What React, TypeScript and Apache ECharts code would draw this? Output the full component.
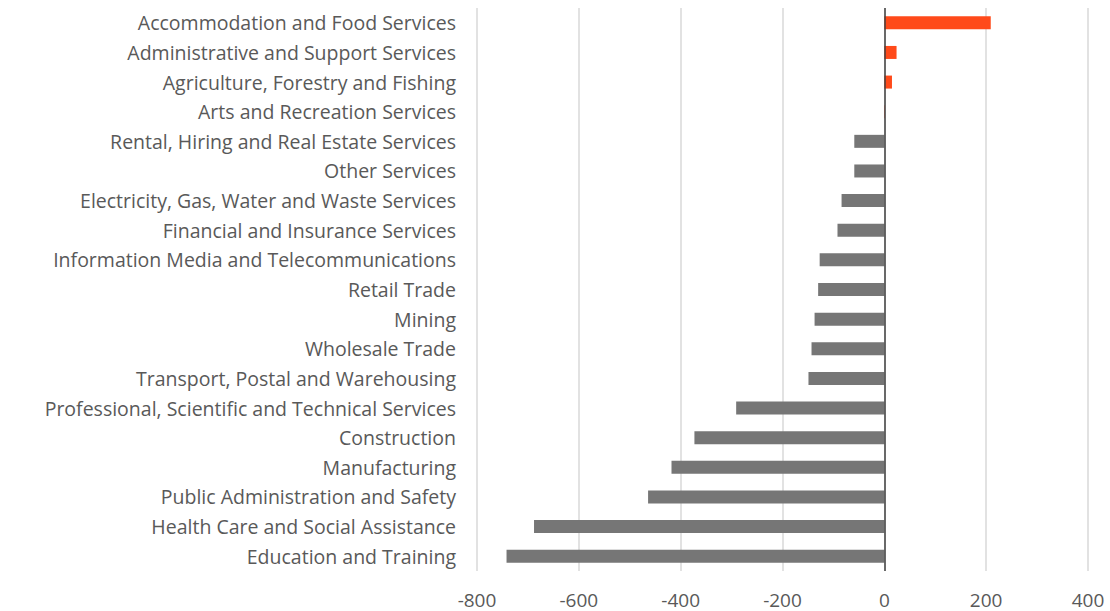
import React, { useEffect, useRef } from "react";
import * as echarts from "echarts";

const categories = [
  "Accommodation and Food Services",
  "Administrative and Support Services",
  "Agriculture, Forestry and Fishing",
  "Arts and Recreation Services",
  "Rental, Hiring and Real Estate Services",
  "Other Services",
  "Electricity, Gas, Water and Waste Services",
  "Financial and Insurance Services",
  "Information Media and Telecommunications",
  "Retail Trade",
  "Mining",
  "Wholesale Trade",
  "Transport, Postal and Warehousing",
  "Professional, Scientific and Technical Services",
  "Construction",
  "Manufacturing",
  "Public Administration and Safety",
  "Health Care and Social Assistance",
  "Education and Training",
];

const values = [209, 24, 15, 1, -59, -59, -84, -92, -127, -130, -137, -143, -149, -291, -373, -418, -464, -688, -742];

const xTicks = { min: -800, max: 400, interval: 200 };

const POS = "#FF4A1A";
const NEG = "#767676";
const TEXT = "#595959";
const FONT = "'Open Sans', 'Noto Sans', sans-serif";

export default function App() {
  const ref = useRef<HTMLDivElement>(null);
  useEffect(() => {
    if (!ref.current) return;
    const chart = echarts.init(ref.current, undefined, { renderer: "svg" });
    chart.setOption({
      animation: false,
      grid: { left: 477, right: 22, top: 8, bottom: 40, containLabel: false },
      xAxis: {
        type: "value",
        min: xTicks.min,
        max: xTicks.max,
        interval: xTicks.interval,
        axisLine: { show: false },
        axisTick: { show: false },
        splitLine: { show: true, lineStyle: { color: "#d9d9d9", width: 1.5 } },
        axisLabel: { color: TEXT, fontSize: 19, fontFamily: FONT, margin: 19 },
      },
      yAxis: {
        type: "category",
        inverse: true,
        data: categories,
        axisLine: { show: false },
        axisTick: { show: false },
        axisLabel: { color: TEXT, fontSize: 19.5, fontFamily: FONT, margin: 21 },
      },
      series: [
        {
          type: "bar",
          data: values,
          barWidth: 13,
          itemStyle: {
            color: (p: any) => (p.value >= 0 ? POS : NEG),
          },
          markLine: {
            silent: true,
            symbol: "none",
            label: { show: false },
            lineStyle: { color: "#404040", width: 1.5, type: "solid" },
            data: [{ xAxis: 0 }],
          },
        },
      ],
    });
    return () => chart.dispose();
  }, []);
  return (
    <div
      ref={ref}
      style={{ position: "fixed", left: 0, top: 0, width: 1110, height: 611, background: "#fff" }}
    />
  );
}
